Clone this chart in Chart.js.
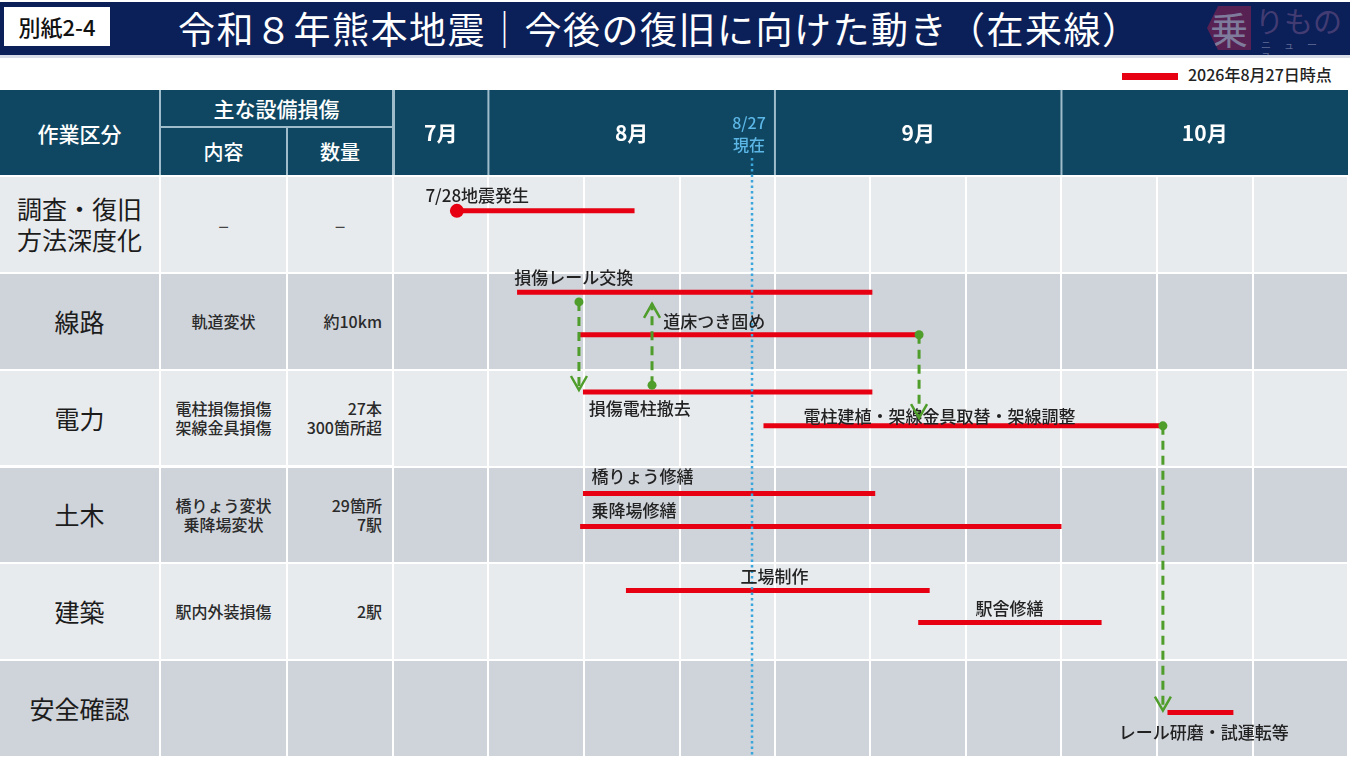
<!DOCTYPE html>
<html lang="ja">
<head>
<meta charset="utf-8">
<title>令和８年熊本地震｜今後の復旧に向けた動き（在来線）</title>
<script src="https://cdn.jsdelivr.net/npm/chart.js@4.4.1/dist/chart.umd.min.js"></script>
<style>
  body { margin: 0; width: 1369px; height: 774px; background: #fff; position: relative; overflow: hidden;
         font-family: "Noto Sans CJK JP", "Noto Sans", sans-serif; color: #222; }
  .titlebar { position: absolute; left: 0; top: 2px; width: 1350px; height: 53px; background: #0b1f58;
              border-bottom: 3px solid #d8dde7; }
  .sheet { position: absolute; left: 4px; top: 5px; width: 106px; height: 39px; background: #fff; color: #111;
           font-size: 22px; line-height: 39px; text-align: center; font-weight: 500; }
  .title { position: absolute; left: 178px; top: 0; height: 53px; line-height: 52px; color: #fff;
           font-size: 37px; letter-spacing: 1.5px; white-space: nowrap; }
  .logo { position: absolute; left: 1205px; top: 0; width: 145px; height: 53px; opacity: .5; overflow: hidden; }
  .logo .hex { position: absolute; left: 2px; top: 4px; width: 44px; height: 44px; background: #a3244f;
               clip-path: polygon(25% 0, 100% 0, 100% 100%, 25% 100%, 0 50%);
               color: #f0d7df; font-size: 38px; line-height: 44px; text-align: center; }
  .logo .mono { position: absolute; left: 50px; top: -2px; font-size: 29px; line-height: 40px; color: #7a5a8e; }
  .logo .news { position: absolute; left: 56px; top: 37px; font-size: 10px; line-height: 12px; letter-spacing: 13px; color: #b0b4d0; }
  .legend-bar { position: absolute; left: 1122px; top: 73px; width: 56px; height: 7px; background: #e60012; }
  .legend-text { position: absolute; left: 1188px; top: 63px; font-size: 16px; line-height: 22px; color: #222; font-weight: 500; }
  .hbox { position: absolute; left: 0; top: 90px; width: 393px; height: 85px; background: #9fbccb; }
  .hc { position: absolute; background: #0f4762; color: #fff; font-weight: 500; display: flex;
        align-items: center; justify-content: center; }
  .bc { position: absolute; display: flex; align-items: center; justify-content: center; text-align: center; }
  .bc.cat { font-size: 25px; line-height: 31px; color: #1c1c1c; }
  .bc.item { font-size: 16px; line-height: 19px; color: #2a2a2a; font-weight: 500; }
  .bc.qty { font-size: 16px; line-height: 19px; color: #2a2a2a; font-weight: 500; justify-content: flex-end;
            text-align: right; padding-right: 10px; box-sizing: border-box; }
  .bc.dash { justify-content: center; padding-right: 0; font-size: 20px; color: #444; font-weight: 400; }
  #gantt { position: absolute; left: 393px; top: 90px; }
</style>
</head>
<body>
<div class="titlebar">
  <div class="sheet">別紙2-4</div>
  <div class="title">令和８年熊本地震｜今後の復旧に向けた動き（在来線）</div>
  <div class="logo"><div class="hex">乗</div><span class="mono">りもの</span><span class="news">ニュース</span></div>
</div>
<div class="legend-bar"></div>
<div class="legend-text">2026年8月27日時点</div>

<div class="hbox"></div>
<div class="hc" style="left:0;top:90px;width:159px;height:85px;font-size:21px;">作業区分</div>
<div class="hc" style="left:161px;top:90px;width:231px;height:36px;font-size:21px;">主な設備損傷</div>
<div class="hc" style="left:161px;top:128px;width:125px;height:47px;font-size:20px;">内容</div>
<div class="hc" style="left:288px;top:128px;width:104px;height:47px;font-size:20px;">数量</div>
<div id="side"></div>

<canvas id="gantt" width="955" height="667"></canvas>

<script>
// 作業区分と主な設備損傷
const categories = ["調査・復旧\n方法深度化", "線路", "電力", "土木", "建築", "安全確認"];
const damageItems = ["–", "軌道変状", "電柱損傷損傷\n架線金具損傷", "橋りょう変状\n乗降場変状", "駅内外装損傷", ""];
const damageQty = ["–", "約10km", "27本\n300箇所超", "29箇所\n7駅", "2駅", ""];

// 時間軸 (月単位: 7.667 = 7月下旬のはじめ)
const monthLabels = ["7月", "8月", "9月", "10月"];
const monthEdges = [7.667, 8, 9, 10, 11];
const periodTicks = [7.667, 8, 8.333, 8.667, 9, 9.333, 9.667, 10, 10.333, 10.667, 11];
const nowValue = 8.92;
const nowText = ["8/27", "現在"];

// 作業 (行番号 + 行内の位置)
const taskLabels = ["7/28地震発生", "損傷レール交換", "道床つき固め", "損傷電柱撤去",
  "電柱建植・架線金具取替・架線調整", "橋りょう修繕", "乗降場修繕", "工場制作", "駅舎修繕", "レール研磨・試運転等"];
const taskStart = [7.89, 8.10, 8.32, 8.33, 8.96, 8.33, 8.32, 8.48, 9.50, 10.37];
const taskEnd = [8.51, 9.34, 9.50, 9.34, 10.35, 9.35, 10.00, 9.54, 10.14, 10.60];
const taskLane = [0.36, 1.20, 1.64, 2.23, 2.58, 3.28, 3.62, 4.28, 4.61, 5.54];
const labelAtX = [7.78, 8.09, 8.61, 8.35, 9.10, 8.36, 8.36, 8.88, 9.70, 10.20];
const labelAtY = [0.20, 1.05, 1.50, 2.40, 2.48, 3.10, 3.45, 4.14, 4.47, 5.75];

// 作業のつながり (緑の矢印)
const linkX = [8.316, 8.571, 9.503, 10.354];
const linkFrom = [1.30, 2.16, 1.64, 2.58];
const linkTo = [2.21, 1.32, 2.50, 5.52];

const RED = "#e60012";
const GREEN = "#4f9d2b";
const rowColors = ["#e8ebee", "#cfd3da"];
const FONT = '"Noto Sans CJK JP", "Noto Sans", sans-serif';

// left table body
const side = document.getElementById("side");
const bodyTop = 176, bodyH = 581, rowH = bodyH / categories.length;
categories.forEach((c, i) => {
  const top = bodyTop + i * rowH + 1, h = rowH - 2, bg = rowColors[i % 2];
  const cells = [
    ["cat", 0, 159, c],
    ["item" + (damageItems[i] === "–" ? " dash" : ""), 161, 125, damageItems[i]],
    ["qty" + (damageQty[i] === "–" ? " dash" : ""), 288, 104, damageQty[i]],
  ];
  cells.forEach(([cls, left, w, txt]) => {
    const d = document.createElement("div");
    d.className = "bc " + cls;
    d.style.cssText = `left:${left}px;top:${top}px;width:${w}px;height:${h}px;background:${bg};`;
    d.innerHTML = txt.split("\n").join("<br>");
    side.appendChild(d);
  });
});

const frame = {
  id: "frame",
  beforeDraw(chart) {
    const { ctx, chartArea: a, scales: { x, y } } = chart;
    ctx.save();
    // header
    ctx.fillStyle = "#0f4762";
    ctx.fillRect(a.left, 0, a.right - a.left, a.top - 1);
    ctx.fillStyle = "#fff";
    ctx.font = "bold 21px " + FONT;
    ctx.textAlign = "center";
    ctx.textBaseline = "middle";
    monthLabels.forEach((m, i) => {
      const l = x.getPixelForValue(monthEdges[i]);
      const r = x.getPixelForValue(monthEdges[i + 1]);
      ctx.fillText(m, (l + r) / 2, a.top / 2);
    });
    ctx.fillStyle = "#9fbccb";
    monthEdges.slice(0, -1).forEach((v) => {
      const px = x.getPixelForValue(v);
      ctx.fillRect(Math.max(a.left, px - 1), 0, 2, a.top - 1);
    });
    // row bands
    categories.forEach((_, i) => {
      const t = y.getPixelForValue(i), b = y.getPixelForValue(i + 1);
      ctx.fillStyle = rowColors[i % 2];
      ctx.fillRect(a.left, t, a.right - a.left, b - t);
    });
    ctx.restore();
  },
  afterDatasetsDraw(chart) {
    const { ctx, chartArea: a, scales: { x, y } } = chart;
    ctx.save();
    // today line
    const nx = x.getPixelForValue(nowValue);
    ctx.strokeStyle = "#3aa6dc";
    ctx.lineWidth = 2.5;
    ctx.setLineDash([2.5, 3]);
    ctx.beginPath();
    ctx.moveTo(nx, a.top - 18);
    ctx.lineTo(nx, a.bottom);
    ctx.stroke();
    ctx.setLineDash([]);
    ctx.fillStyle = "#5cb6e6";
    ctx.font = "500 16px " + FONT;
    ctx.textAlign = "center";
    ctx.textBaseline = "middle";
    ctx.fillText(nowText[0], nx - 3, a.top - 53);
    ctx.fillText(nowText[1], nx - 3, a.top - 31);
    // task labels
    ctx.fillStyle = "#222";
    ctx.font = "500 17px " + FONT;
    ctx.textAlign = "left";
    taskLabels.forEach((t, i) => {
      ctx.fillText(t, x.getPixelForValue(labelAtX[i]), y.getPixelForValue(labelAtY[i]));
    });
    // arrow heads
    ctx.strokeStyle = GREEN;
    ctx.lineWidth = 2.5;
    chart.data.datasets.forEach((ds, i) => {
      if (ds.kind !== "link") return;
      const [p0, p1] = chart.getDatasetMeta(i).data;
      const dir = p1.y > p0.y ? 1 : -1;
      ctx.beginPath();
      ctx.moveTo(p1.x - 8, p1.y - dir * 14);
      ctx.lineTo(p1.x, p1.y);
      ctx.lineTo(p1.x + 8, p1.y - dir * 14);
      ctx.stroke();
    });
    ctx.restore();
  },
};

const linkSets = linkX.map((lx, i) => ({
  kind: "link",
  label: "link" + i,
  data: [{ x: lx, y: linkFrom[i] }, { x: lx, y: linkTo[i] }],
  showLine: true,
  borderColor: GREEN,
  borderWidth: 3,
  borderDash: [9, 6],
  pointRadius: [4.5, 0],
  pointBackgroundColor: GREEN,
  pointBorderWidth: 0,
}));

const taskSets = taskLabels.map((name, i) => ({
  label: name,
  data: [{ x: taskStart[i], y: taskLane[i] }, { x: taskEnd[i], y: taskLane[i] }],
  showLine: true,
  borderColor: RED,
  borderWidth: 5,
  borderCapStyle: "butt",
  pointRadius: i === 0 ? [7, 0] : 0,
  pointBackgroundColor: RED,
  pointBorderWidth: 0,
}));

new Chart(document.getElementById("gantt"), {
  type: "scatter",
  data: { datasets: [...linkSets, ...taskSets] },
  options: {
    responsive: false,
    animation: false,
    events: [],
    layout: { autoPadding: false, padding: { top: 86, left: 0, right: 0, bottom: 0 } },
    plugins: { legend: { display: false }, tooltip: { enabled: false } },
    scales: {
      x: {
        type: "linear",
        min: periodTicks[0],
        max: periodTicks[periodTicks.length - 1],
        afterBuildTicks: (s) => { s.ticks = periodTicks.map((v) => ({ value: v })); },
        ticks: { display: false },
        grid: { color: "#ffffff", lineWidth: 2, drawTicks: false },
        border: { display: false },
      },
      y: {
        type: "linear",
        reverse: true,
        min: 0,
        max: categories.length,
        afterBuildTicks: (s) => { s.ticks = [0, 1, 2, 3, 4, 5, 6].map((v) => ({ value: v })); },
        ticks: { display: false },
        grid: { color: "#ffffff", lineWidth: 2, drawTicks: false },
        border: { display: false },
      },
    },
  },
  plugins: [frame],
});
</script>
</body>
</html>
